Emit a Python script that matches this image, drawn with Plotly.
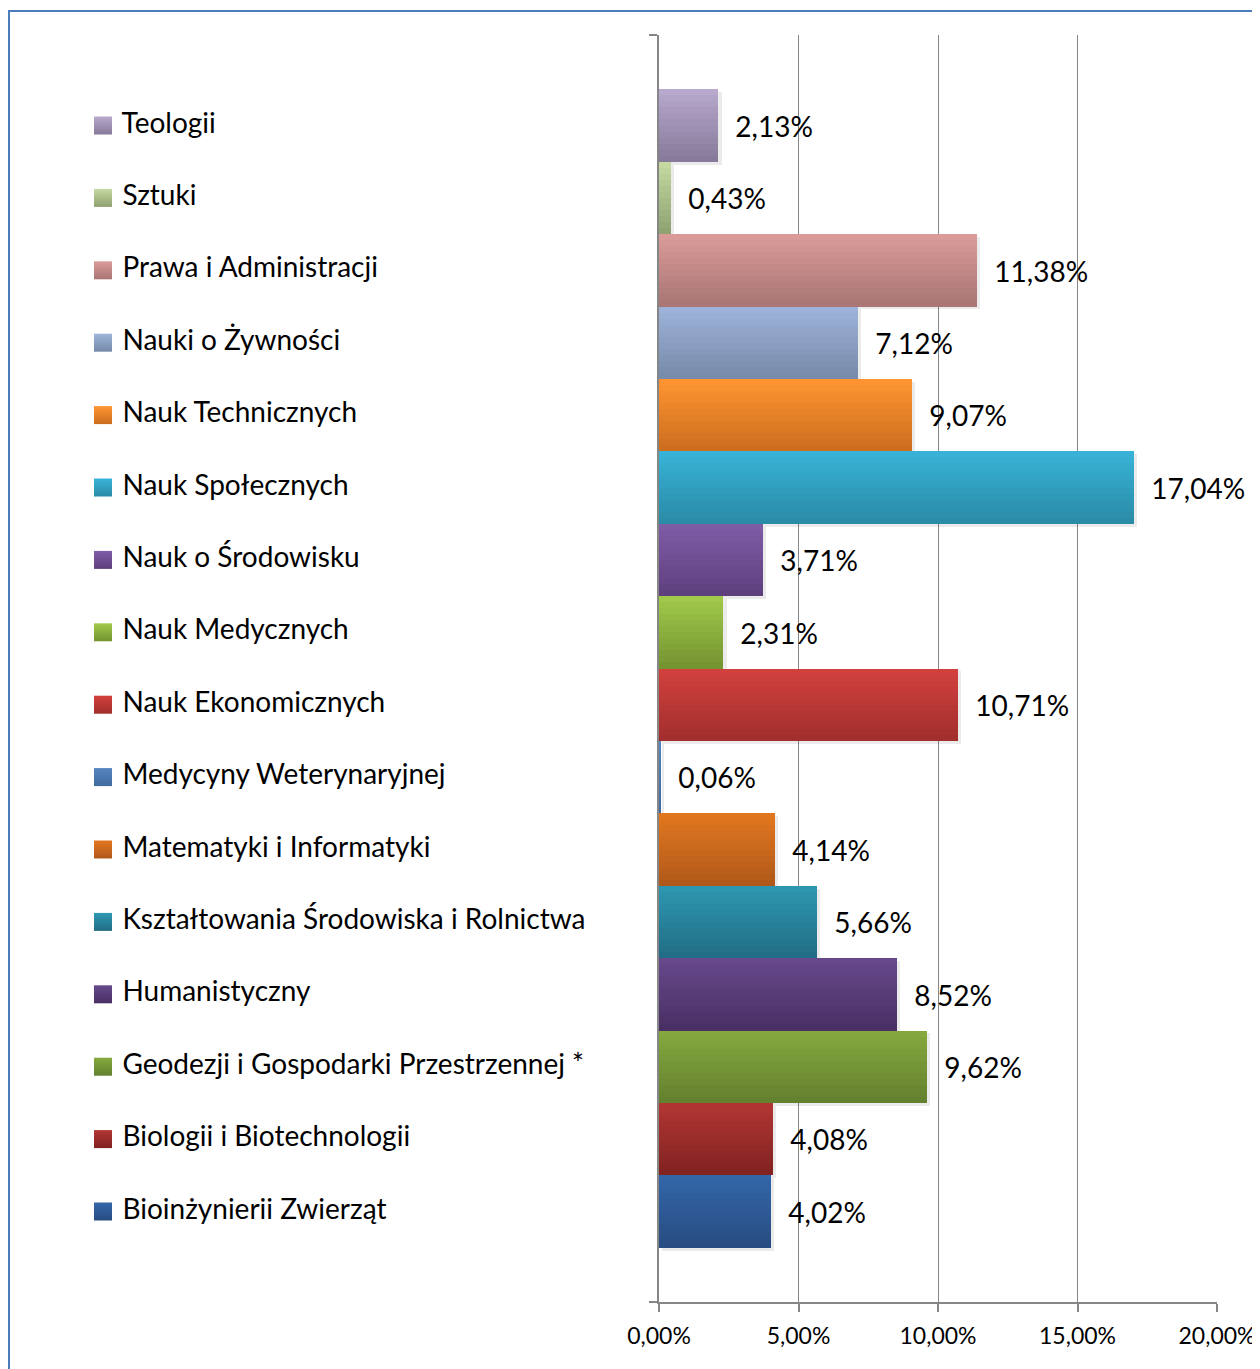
"""
Share of students by faculty - horizontal gradient bar chart (Excel look).
"""

import plotly.graph_objects as go

# ---- data (top to bottom, as in the legend) ----
FACULTIES = [
    "Teologii",
    "Sztuki",
    "Prawa i Administracji",
    "Nauki o Żywności",
    "Nauk Technicznych",
    "Nauk Społecznych",
    "Nauk o Środowisku",
    "Nauk Medycznych",
    "Nauk Ekonomicznych",
    "Medycyny Weterynaryjnej",
    "Matematyki i Informatyki",
    "Kształtowania Środowiska i Rolnictwa",
    "Humanistyczny",
    "Geodezji i Gospodarki Przestrzennej *",
    "Biologii i Biotechnologii",
    "Bioinżynierii Zwierząt",
]
SHARES = [
    0.0213, 0.0043, 0.1138, 0.0712, 0.0907, 0.1704, 0.0371, 0.0231,
    0.1071, 0.0006, 0.0414, 0.0566, 0.0852, 0.0962, 0.0408, 0.0402,
]
X_TICKS = [0.0, 0.05, 0.10, 0.15, 0.20]

# ---- styling ----
TOP_COLORS = [
    "#B9AACE", "#C6DAA2", "#DB9C9A", "#9EB4DA", "#FF9632", "#38B4D8",
    "#7F5DA8", "#A2CA4C", "#D3413E", "#5585C2", "#E2781F", "#2E98B2",
    "#68498D", "#85AA3E", "#B23633", "#3467AA",
]
BOTTOM_COLORS = [
    "#857898", "#8FA070", "#A87573", "#7589A8", "#CB6C1E", "#2A8AA5",
    "#5E3F7C", "#739330", "#A02E2C", "#3F6A9E", "#B0581A", "#216C84",
    "#482F62", "#637F2E", "#7F2220", "#274C80",
]
FONT = "Lato"
GRID = "#868686"
N_BANDS = 12
LEGEND_X = 95   # x2 units are pixels from the figure's left edge

# the page puts the figure 8px in from the top-left corner
W, H = 1252, 1361
PLOT_L, PLOT_R, PLOT_T, PLOT_B = 651, 1209, 27, 1294


def mix(c1, c2, t):
    a = [int(c1[i:i + 2], 16) for i in (1, 3, 5)]
    b = [int(c2[i:i + 2], 16) for i in (1, 3, 5)]
    return "rgb({},{},{})".format(*[round(p + (q - p) * t) for p, q in zip(a, b)])


fig = go.Figure()

# soft drop shadow, slightly right and below each bar
fig.add_trace(go.Bar(
    y=FACULTIES, x=SHARES, base=0.0011, orientation="h",
    width=1.0, offset=-0.46,
    marker=dict(color="rgba(0,0,0,0.08)", line=dict(width=0)),
    hoverinfo="skip", showlegend=False, cliponaxis=False,
))

# full bar with the value label
fig.add_trace(go.Bar(
    y=FACULTIES, x=SHARES, orientation="h",
    width=1.0, offset=-0.5,
    marker=dict(color=[mix(t, b, 0.5) for t, b in zip(TOP_COLORS, BOTTOM_COLORS)],
                line=dict(width=0)),
    texttemplate="\u00a0\u00a0%{x:.2%}",
    textposition="outside", constraintext="none", cliponaxis=False,
    textfont=dict(family=FONT, size=28, color="black"),
    showlegend=False,
))

# vertical gradient made of thin horizontal bands
for k in range(N_BANDS):
    t = (k + 0.5) / N_BANDS
    fig.add_trace(go.Bar(
        y=FACULTIES, x=SHARES, orientation="h",
        width=1.0 / N_BANDS, offset=-0.5 + k / N_BANDS,
        marker=dict(color=[mix(a, b, t) for a, b in zip(TOP_COLORS, BOTTOM_COLORS)],
                    line=dict(width=0)),
        hoverinfo="skip", showlegend=False,
    ))

# legend column on the left: square key + faculty name
fig.add_trace(go.Scatter(
    x=[LEGEND_X] * len(FACULTIES), y=FACULTIES,
    xaxis="x2", yaxis="y",
    mode="markers+text",
    marker=dict(symbol="square", size=18, color=TOP_COLORS,
                gradient=dict(type="vertical", color=BOTTOM_COLORS),
                line=dict(width=0)),
    text=FACULTIES, texttemplate="\u00a0%{text}",
    textposition="middle right",
    textfont=dict(family=FONT, size=28, color="black"),
    hoverinfo="skip", showlegend=False, cliponaxis=False,
))

n = len(FACULTIES)
inner_w = PLOT_R
inner_h = PLOT_B - PLOT_T
fig.update_layout(
    width=W, height=H,
    margin=dict(l=0, r=W - PLOT_R, t=PLOT_T, b=H - PLOT_B, pad=0),
    barmode="overlay", bargap=0,
    separators=", ",
    paper_bgcolor="white", plot_bgcolor="white",
    font=dict(family=FONT, color="black"),
    showlegend=False,
    xaxis=dict(
        domain=[PLOT_L / inner_w, 1], range=[0, 0.20],
        tickmode="array", tickvals=X_TICKS, tickformat=".2%",
        ticks="outside", ticklen=8, tickcolor=GRID, tickwidth=1.5,
        ticklabelstandoff=5,
        tickfont=dict(family=FONT, size=23, color="black"),
        showgrid=True, gridcolor=GRID, gridwidth=1.2,
        showline=True, linecolor=GRID, linewidth=1.5,
        zeroline=False, fixedrange=True, automargin=False,
    ),
    xaxis2=dict(domain=[0, 0.5], range=[0, 0.5 * inner_w], visible=False,
                anchor="y", fixedrange=True, automargin=False),
    yaxis=dict(
        type="category", categoryorder="array", categoryarray=FACULTIES,
        range=[n - 0.5 + 0.75, -0.5 - 0.75],
        tickmode="array", tickvals=[n - 0.5 + 0.749, -0.5 - 0.749],
        ticks="outside", ticklen=8, tickcolor=GRID, tickwidth=1.5,
        showticklabels=False, showgrid=False,
        showline=True, linecolor=GRID, linewidth=1.5,
        zeroline=False, fixedrange=True, automargin=False,
    ),
    shapes=[dict(
        type="rect", xref="paper", yref="paper",
        x0=1 / inner_w, x1=1.1, y0=-0.1, y1=1 + (PLOT_T - 3) / inner_h,
        line=dict(color="#4A7EBB", width=2), fillcolor="rgba(0,0,0,0)",
        layer="below",
    )],
)

fig.write_html("out.html")
